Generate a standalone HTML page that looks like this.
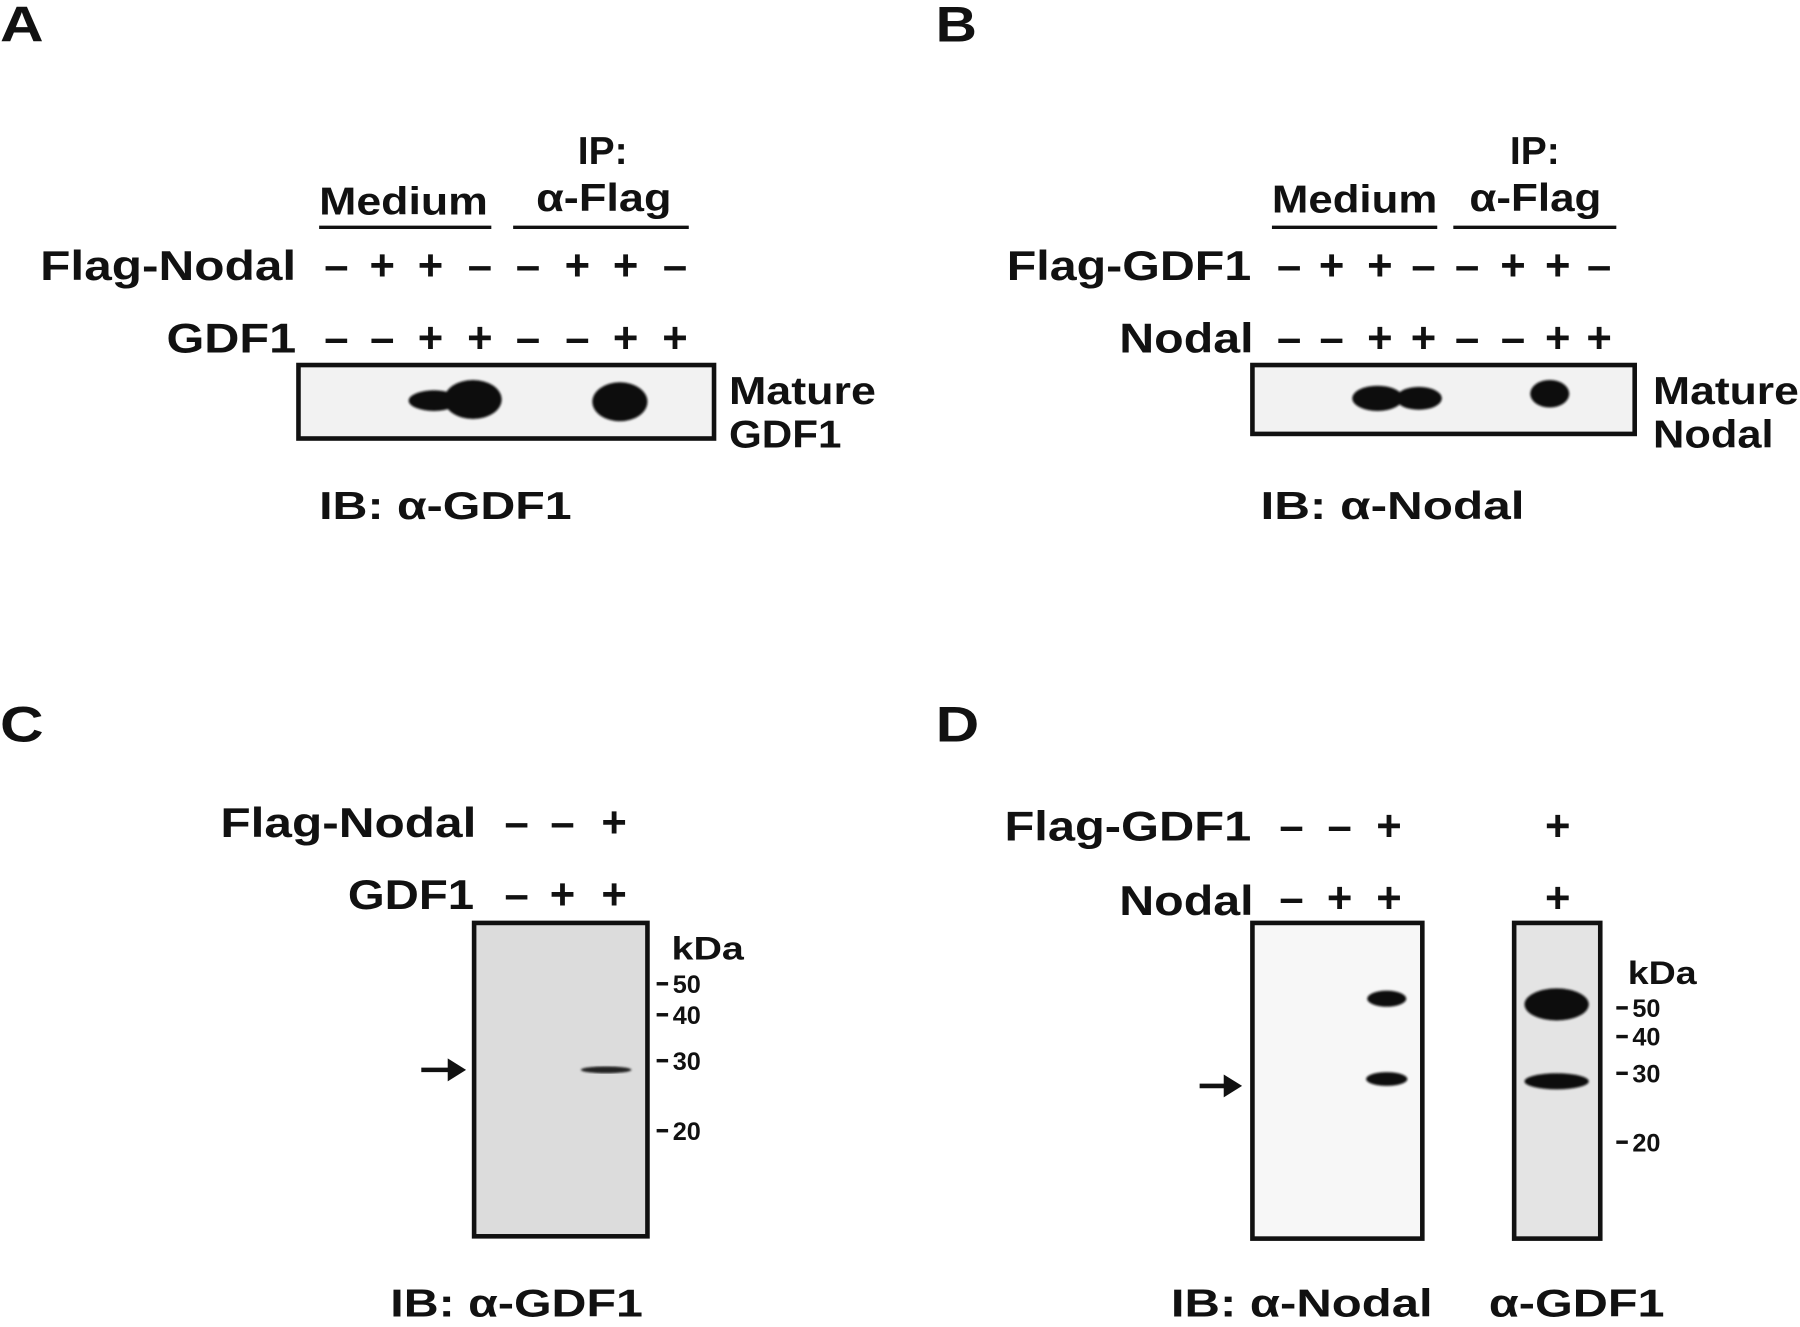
<!DOCTYPE html>
<html><head><meta charset="utf-8"><style>
html,body{margin:0;padding:0;background:#fff;}
svg{display:block;}
text{font-family:"Liberation Sans",Arial,sans-serif;font-weight:bold;fill:#111;}
</style></head><body>
<svg id="fig" width="1800" height="1327" viewBox="0 0 1568 1156" preserveAspectRatio="none" xmlns="http://www.w3.org/2000/svg">
<defs>
<filter id="blur1"><feGaussianBlur stdDeviation="1"/></filter>
</defs>
<!-- Panel A -->
<g>
<text x="0" y="36" font-size="44" textLength="38" lengthAdjust="spacingAndGlyphs">A</text>
<text x="278" y="187" font-size="34" textLength="147" lengthAdjust="spacingAndGlyphs">Medium</text>
<line x1="278" y1="198" x2="428" y2="198" stroke="#111" stroke-width="3"/>
<text x="525" y="143" font-size="34" text-anchor="middle">IP:</text>
<text x="467" y="184" font-size="34" textLength="118" lengthAdjust="spacingAndGlyphs">α-Flag</text>
<line x1="447" y1="198" x2="600" y2="198" stroke="#111" stroke-width="3"/>
<text x="35" y="244" font-size="36" textLength="223" lengthAdjust="spacingAndGlyphs">Flag-Nodal</text>
<text x="145" y="307" font-size="36" textLength="113" lengthAdjust="spacingAndGlyphs">GDF1</text>
<rect x="260" y="318" width="362" height="64" fill="#f2f2f2" stroke="#111" stroke-width="4"/>
<g filter="url(#blur1)">
<ellipse cx="378" cy="349" rx="22" ry="9" fill="#111"/>
<ellipse cx="412" cy="348" rx="25" ry="17" fill="#111"/>
<ellipse cx="540" cy="350" rx="24" ry="17" fill="#111"/>
</g>
<text x="635" y="352" font-size="34" textLength="128" lengthAdjust="spacingAndGlyphs">Mature</text>
<text x="635" y="390" font-size="34" textLength="98" lengthAdjust="spacingAndGlyphs">GDF1</text>
<text x="278" y="452" font-size="34" textLength="220" lengthAdjust="spacingAndGlyphs">IB: α-GDF1</text>
</g>
<!-- Panel B -->
<g>
<text x="815" y="36" font-size="44" textLength="36" lengthAdjust="spacingAndGlyphs">B</text>
<text x="1108" y="185" font-size="34" textLength="144" lengthAdjust="spacingAndGlyphs">Medium</text>
<line x1="1108" y1="198" x2="1252" y2="198" stroke="#111" stroke-width="3"/>
<text x="1337" y="143" font-size="34" text-anchor="middle">IP:</text>
<text x="1280" y="184" font-size="34" textLength="115" lengthAdjust="spacingAndGlyphs">α-Flag</text>
<line x1="1266" y1="198" x2="1408" y2="198" stroke="#111" stroke-width="3"/>
<text x="877" y="244" font-size="36" textLength="213" lengthAdjust="spacingAndGlyphs">Flag-GDF1</text>
<text x="975" y="307" font-size="36" textLength="117" lengthAdjust="spacingAndGlyphs">Nodal</text>
<rect x="1091" y="318" width="333" height="60" fill="#f2f2f2" stroke="#111" stroke-width="4"/>
<g filter="url(#blur1)">
<ellipse cx="1200" cy="347" rx="22" ry="11" fill="#111"/>
<ellipse cx="1236" cy="347" rx="20" ry="10" fill="#111"/>
<ellipse cx="1350" cy="343" rx="17" ry="12" fill="#111"/>
</g>
<text x="1440" y="352" font-size="34" textLength="127" lengthAdjust="spacingAndGlyphs">Mature</text>
<text x="1440" y="390" font-size="34" textLength="105" lengthAdjust="spacingAndGlyphs">Nodal</text>
<text x="1098" y="452" font-size="34" textLength="230" lengthAdjust="spacingAndGlyphs">IB: α-Nodal</text>
</g>
<!-- Panel C -->
<g>
<text x="0" y="646" font-size="44" textLength="38" lengthAdjust="spacingAndGlyphs">C</text>
<text x="192" y="729" font-size="36" textLength="223" lengthAdjust="spacingAndGlyphs">Flag-Nodal</text>
<text x="303" y="792" font-size="36" textLength="110" lengthAdjust="spacingAndGlyphs">GDF1</text>
<rect x="413" y="804" width="151" height="273" fill="#dcdcdc" stroke="#111" stroke-width="4"/>
<ellipse cx="528" cy="932" rx="22" ry="3" fill="#222" filter="url(#blur1)"/>
<text x="585" y="836" font-size="28" textLength="63" lengthAdjust="spacingAndGlyphs">kDa</text>
<g>
<line x1="572" y1="857" x2="582" y2="857" stroke="#111" stroke-width="3"/><text x="586" y="865" font-size="22">50</text>
<line x1="572" y1="884" x2="582" y2="884" stroke="#111" stroke-width="3"/><text x="586" y="892" font-size="22">40</text>
<line x1="572" y1="924" x2="582" y2="924" stroke="#111" stroke-width="3"/><text x="586" y="932" font-size="22">30</text>
<line x1="572" y1="985" x2="582" y2="985" stroke="#111" stroke-width="3"/><text x="586" y="993" font-size="22">20</text>
</g>
<g><line x1="367" y1="932" x2="392" y2="932" stroke="#111" stroke-width="4"/><polygon points="390,922 406,932 390,942" fill="#111"/></g>
<text x="340" y="1147" font-size="34" textLength="220" lengthAdjust="spacingAndGlyphs">IB: α-GDF1</text>
</g>
<!-- Panel D -->
<g>
<text x="815" y="646" font-size="44" textLength="38" lengthAdjust="spacingAndGlyphs">D</text>
<text x="875" y="732" font-size="36" textLength="215" lengthAdjust="spacingAndGlyphs">Flag-GDF1</text>
<text x="975" y="797" font-size="36" textLength="117" lengthAdjust="spacingAndGlyphs">Nodal</text>
<rect x="1091" y="804" width="148" height="275" fill="#f7f7f7" stroke="#111" stroke-width="4"/>
<g filter="url(#blur1)">
<ellipse cx="1208" cy="870" rx="17" ry="7" fill="#111"/>
<ellipse cx="1208" cy="940" rx="18" ry="6" fill="#111"/>
</g>
<rect x="1319" y="804" width="75" height="275" fill="#e4e4e4" stroke="#111" stroke-width="4"/>
<g filter="url(#blur1)">
<ellipse cx="1356" cy="875" rx="28" ry="14" fill="#111"/>
<ellipse cx="1356" cy="942" rx="28" ry="7" fill="#111"/>
</g>
<text x="1418" y="857" font-size="28" textLength="60" lengthAdjust="spacingAndGlyphs">kDa</text>
<g>
<line x1="1408" y1="878" x2="1418" y2="878" stroke="#111" stroke-width="3"/><text x="1422" y="886" font-size="22">50</text>
<line x1="1408" y1="903" x2="1418" y2="903" stroke="#111" stroke-width="3"/><text x="1422" y="911" font-size="22">40</text>
<line x1="1408" y1="935" x2="1418" y2="935" stroke="#111" stroke-width="3"/><text x="1422" y="943" font-size="22">30</text>
<line x1="1408" y1="995" x2="1418" y2="995" stroke="#111" stroke-width="3"/><text x="1422" y="1003" font-size="22">20</text>
</g>
<g><line x1="1045" y1="946" x2="1068" y2="946" stroke="#111" stroke-width="4"/><polygon points="1066,936 1082,946 1066,956" fill="#111"/></g>
<text x="1020" y="1147" font-size="34" textLength="228" lengthAdjust="spacingAndGlyphs">IB: α-Nodal</text>
<text x="1297" y="1147" font-size="34" textLength="153" lengthAdjust="spacingAndGlyphs">α-GDF1</text>
</g>
<g id="signs"></g>
</svg>
<script>
const aLanes = [293,333,375,418,460,503,545,588];
const aFlagNodal = ['-','+','+','-','-','+','+','-'];
const aGdf1 = ['-','-','+','+','-','-','+','+'];
const bLanes = [1123,1160,1202,1240,1278,1318,1357,1393];
const bFlagGdf1 = ['-','+','+','-','-','+','+','-'];
const bNodal = ['-','-','+','+','-','-','+','+'];
const cLanes = [450,490,535];
const cFlagNodal = ['-','-','+'];
const cGdf1 = ['-','+','+'];
const dLanes = [1125,1167,1210,1357];
const dFlagGdf1 = ['-','-','+','+'];
const dNodal = ['-','+','+','+'];
const g = document.getElementById('signs');
function row(lanes, vals, y, name){
  lanes.forEach((x,i)=>{
    const t = document.createElementNS('http://www.w3.org/2000/svg','text');
    t.setAttribute('x', x);
    t.setAttribute('y', y);
    t.setAttribute('font-size', '38');
    t.setAttribute('text-anchor', 'middle');
    t.textContent = vals[i] === '+' ? '+' : '–';
    
    
    g.appendChild(t);
  });
}
row(aLanes, aFlagNodal, 244, 'a-flag-nodal');
row(aLanes, aGdf1, 307, 'a-gdf1');
row(bLanes, bFlagGdf1, 244, 'b-flag-gdf1');
row(bLanes, bNodal, 307, 'b-nodal');
row(cLanes, cFlagNodal, 729, 'c-flag-nodal');
row(cLanes, cGdf1, 792, 'c-gdf1');
row(dLanes, dFlagGdf1, 732, 'd-flag-gdf1');
row(dLanes, dNodal, 795, 'd-nodal');
</script>
</body></html>
